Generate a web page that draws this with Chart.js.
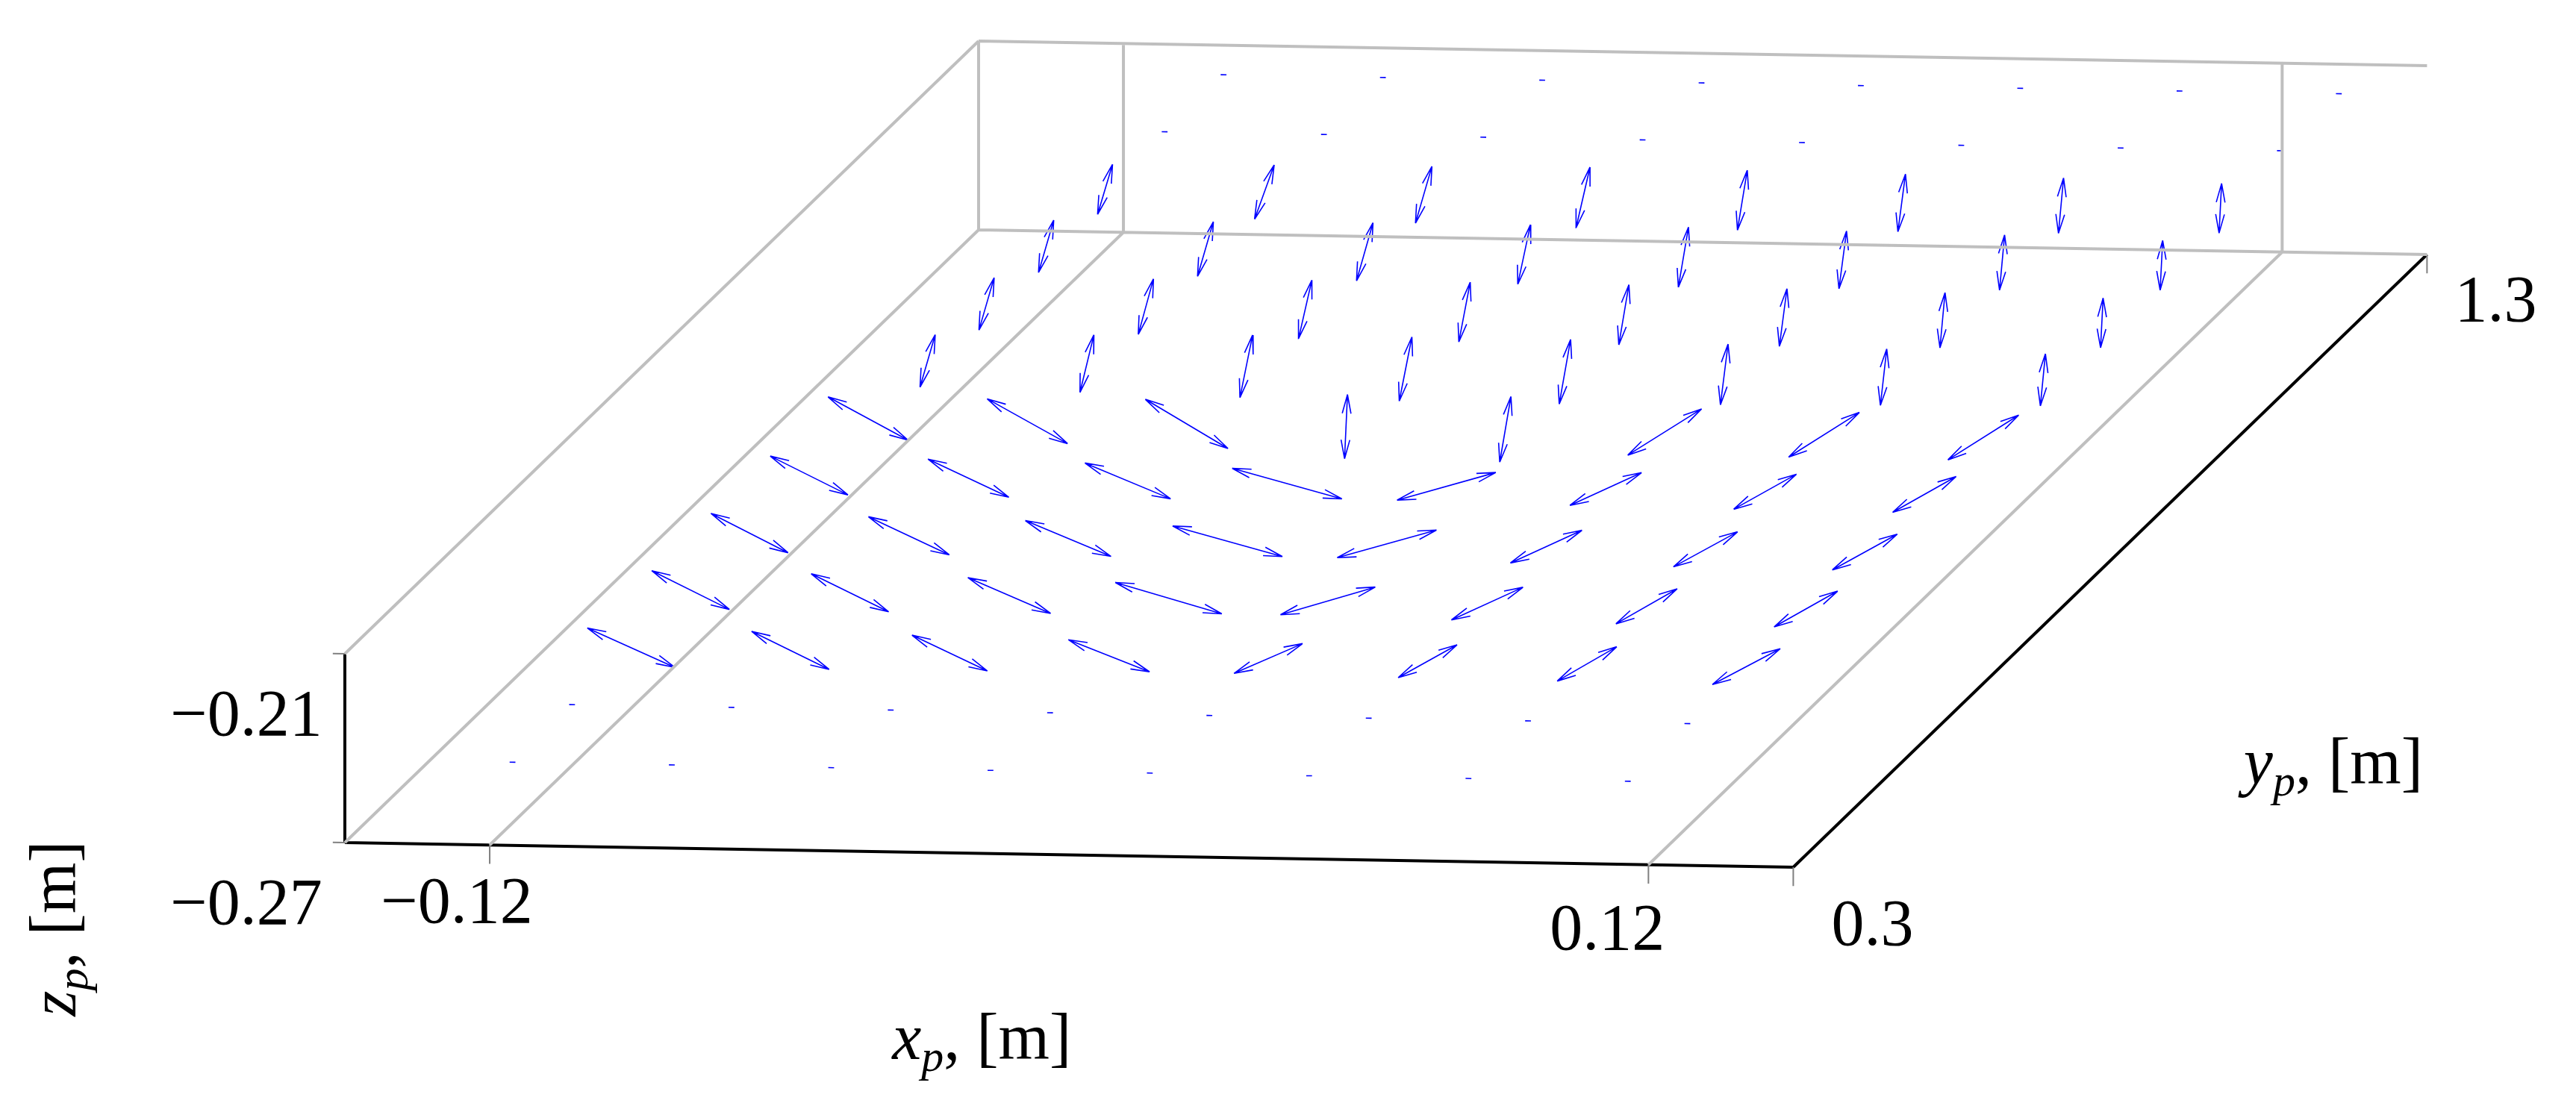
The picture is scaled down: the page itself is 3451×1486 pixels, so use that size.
<!DOCTYPE html>
<html><head><meta charset="utf-8">
<script src="https://cdn.jsdelivr.net/npm/chart.js@4/dist/chart.umd.min.js"></script>
<style>html,body{margin:0;padding:0;background:#fff}canvas{display:block}</style>
</head><body>
<canvas id="c" width="3451" height="1486"></canvas>
<script>
// ---- data ----
const xRange = [-0.15, 0.15];
const yRange = [0.3, 1.3];
const zRange = [-0.27, -0.21];
const xTicks = [-0.12, 0.12];
const yTicks = [0.3, 1.3];
const zTicks = [-0.27, -0.21];
const xTickLabels = ["\u22120.12", "0.12"];
const yTickLabels = ["0.3", "1.3"];
const zTickLabels = ["\u22120.27", "\u22120.21"];
const gridX = [-0.12, -0.087, -0.054, -0.021, 0.012, 0.045, 0.078, 0.111];
const gridY = [0.336, 0.430, 0.523, 0.617, 0.710, 0.804, 0.897, 0.991, 1.084, 1.178, 1.271, 1.365, 1.458];
const gridZ = -0.2507;
const U = [
 [0.0012,0.0012,0.0012,0.0012,0.0012,0.0012,0.0012,0.0012],
 [0.0012,0.0012,0.0012,0.0012,0.0012,0.0012,0.0012,0.0012],
 [0.0261,0.0238,0.0229,0.0233,0.0077,0.0051,0.0049,0.0063],
 [0.0240,0.0238,0.0244,0.0283,0.0135,0.0077,0.0051,0.0054],
 [0.0240,0.0245,0.0250,0.0288,0.0144,0.0077,0.0057,0.0057],
 [0.0240,0.0245,0.0250,0.0288,0.0143,0.0077,0.0054,0.0054],
 [0.0254,0.0258,0.0272,0,0,0.0053,0.0050,0.0050],
 [0,0,0,0,0,0,0,0],[0,0,0,0,0,0,0,0],[0,0,0,0,0,0,0,0],[0,0,0,0,0,0,0,0],
 [0.0012,0.0012,0.0012,0.0012,0.0012,0.0012,0.0012,0.0012],
 [0.0012,0.0012,0.0012,0.0012,0.0012,0.0012,0.0012,0.0012]
];
const V = [
 [0,0,0,0,0,0,0,0],[0,0,0,0,0,0,0,0],
 [-0.0607,-0.0589,-0.0554,-0.0493,0.0497,0.0543,0.0567,0.0593],
 [-0.0601,-0.0589,-0.0552,-0.0474,0.0469,0.0545,0.0579,0.0592],
 [-0.0610,-0.0589,-0.0551,-0.0461,0.0470,0.0545,0.0580,0.0592],
 [-0.0601,-0.0589,-0.0551,-0.0461,0.0470,0.0545,0.0580,0.0592],
 [-0.0672,-0.0696,-0.0767,0.0046,0.0177,0.0762,0.0737,0.0737],
 [0.024,0.022,0.020,0.020,0.018,0.012,0.010,0.008],
 [0.024,0.024,0.021,0.018,0.016,0.012,0.008,0.004],
 [0.024,0.025,0.026,0.020,0.016,0.012,0.008,0.004],
 [0.0236,0.031,0.026,0.022,0.0155,0.012,0.008,0.004],
 [0,0,0,0,0,0,0,0],[0,0,0,0,0,0,0,0]
];
const W = [
 [0,0,0,0,0,0,0,0],[0,0,0,0,0,0,0,0],
 [0,0,0,0,0,0,0,0],[0,0,0,0,0,0,0,0],[0,0,0,0,0,0,0,0],[0,0,0,0,0,0,0,0],
 [0,0,0,0.0195,0.0174,0,0,0],
 [0.012,0.014,0.016,0.0165,0.017,0.017,0.016,0.015],
 [0.012,0.013,0.0145,0.0155,0.016,0.016,0.016,0.015],
 [0.012,0.0125,0.0134,0.015,0.016,0.016,0.016,0.015],
 [0.0113,0.0112,0.013,0.015,0.016,0.016,0.016,0.015],
 [0,0,0,0,0,0,0,0],[0,0,0,0,0,0,0,0]
];

// ---- view (orthographic projection to plot units) ----
const O = [462, 1129];
const EX = [6468, 110];   // per unit x
const EY = [849, -821];   // per unit y
const EZ = [0, -4217];    // per unit z
function proj(x, y, z) {
  const a = x - xRange[0], b = y - yRange[0], c = z - zRange[0];
  return {x: O[0] + a*EX[0] + b*EY[0] + c*EZ[0], y: O[1] + a*EX[1] + b*EY[1] + c*EZ[1]};
}
const GAP = {x: null, y: null};
function seg(arr, p, q) { arr.push(proj(...p), proj(...q), GAP); }

const gray = [], black = [], ticks = [], arrows = [];
const [x0,x1] = xRange, [y0,y1] = yRange, [z0,z1] = zRange;
seg(gray,[x0,y1,z0],[x1,y1,z0]);
seg(gray,[x0,y0,z0],[x0,y1,z0]);
seg(gray,[x0,y1,z1],[x1,y1,z1]);
seg(gray,[x0,y0,z1],[x0,y1,z1]);
seg(gray,[x0,y1,z0],[x0,y1,z1]);
xTicks.forEach(t => { seg(gray,[t,y0,z0],[t,y1,z0]); seg(gray,[t,y1,z0],[t,y1,z1]); });
seg(black,[x0,y0,z0],[x1,y0,z0]);
seg(black,[x1,y0,z0],[x1,y1,z0]);
seg(black,[x0,y0,z0],[x0,y0,z1]);
xTicks.forEach(t => seg(ticks,[t,y0,z0],[t,y0,z0-0.006]));
yTicks.forEach(t => seg(ticks,[x1,t,z0],[x1,t,z0-0.006]));
zTicks.forEach(t => seg(ticks,[x0,y0,t],[x0-0.0025,y0,t]));

// arrows (double headed), centred on grid points
const HL = 26, HA = 13*Math.PI/180;
for (let r = 0; r < gridY.length; r++) for (let c = 0; c < gridX.length; c++) {
  const u = U[r][c], v = V[r][c], w = W[r][c];
  const p = proj(gridX[c]-u/2, gridY[r]-v/2, gridZ-w/2);
  const q = proj(gridX[c]+u/2, gridY[r]+v/2, gridZ+w/2);
  arrows.push(p, q, GAP);
  const L = Math.hypot(q.x-p.x, q.y-p.y);
  if (L < 20) continue;
  [[q,p],[p,q]].forEach(([tip, from]) => {
    const ang = Math.atan2(from.y-tip.y, from.x-tip.x);
    [-HA, HA].forEach(d => {
      arrows.push({x: tip.x, y: tip.y}, {x: tip.x + HL*Math.cos(ang+d), y: tip.y + HL*Math.sin(ang+d)}, GAP);
    });
  });
}

function ds(data, color, width) {
  return {data, borderColor: color, borderWidth: width, pointRadius: 0, showLine: true, spanGaps: false, fill: false, tension: 0};
}

const labelPlugin = {
  id: 'labels',
  afterDatasetsDraw(chart) {
    const ctx = chart.ctx, sx = chart.scales.x, sy = chart.scales.y;
    const px = p => [sx.getPixelForValue(p.x), sy.getPixelForValue(p.y)];
    ctx.save();
    ctx.fillStyle = '#000';
    ctx.textAlign = 'center'; ctx.textBaseline = 'middle';
    const F = '88px "Liberation Serif", "DejaVu Serif", serif';
    ctx.font = F;
    zTicks.forEach((t,i) => { const [a,b] = px(proj(x0,y0,t)); ctx.fillText(zTickLabels[i], a-132, b+86); });
    xTicks.forEach((t,i) => { const [a,b] = px(proj(t,y0,z0)); ctx.fillText(xTickLabels[i], a-(i? 55:44), b+(i?90:81)); });
    yTicks.forEach((t,i) => { const [a,b] = px(proj(x1,t,z0)); ctx.fillText(yTickLabels[i], a+(i?92:106), b+(i?66:81)); });
    function axisLabel(v, cx, cy, rot) {
      ctx.save(); ctx.translate(cx, cy); ctx.rotate(rot);
      ctx.textAlign = 'left'; ctx.textBaseline = 'alphabetic';
      const it = 'italic 88px "Liberation Serif", serif', sub = 'italic 60px "Liberation Serif", serif';
      ctx.font = it; const w1 = ctx.measureText(v).width;
      ctx.font = sub; const w2 = ctx.measureText('p').width;
      ctx.font = F; const w3 = ctx.measureText(', [m]').width;
      let xx = -(w1+w2+w3)/2;
      ctx.font = it; ctx.fillText(v, xx, 28); xx += w1;
      ctx.font = sub; ctx.fillText('p', xx, 44); xx += w2;
      ctx.font = F; ctx.fillText(', [m]', xx, 28);
      ctx.restore();
    }
    const xm = px(proj(0,y0,z0)); axisLabel('x', xm[0]-117, xm[1]+245, 0);
    const ym = px(proj(x1,0.8,z0)); axisLabel('y', ym[0]+299, ym[1]+270, 0);
    const zm = px(proj(x0,y0,z0)); axisLabel('z', zm[0]-389, zm[1]+115, -Math.PI/2);
    ctx.restore();
  }
};

new Chart(document.getElementById('c'), {
  type: 'scatter',
  data: { datasets: [
    ds(gray, '#bfbfbf', 4),
    ds(ticks, '#808080', 2),
    ds(black, '#000000', 4),
    ds(arrows, '#0000ff', 1.6)
  ]},
  options: {
    responsive: false, animation: false, devicePixelRatio: 1,
    layout: {padding: 0},
    plugins: {legend: {display: false}, tooltip: {enabled: false}},
    scales: {
      x: {type: 'linear', min: 0, max: 3451, display: false},
      y: {type: 'linear', min: 0, max: 1486, reverse: true, display: false}
    }
  },
  plugins: [labelPlugin]
});
</script>
</body></html>
